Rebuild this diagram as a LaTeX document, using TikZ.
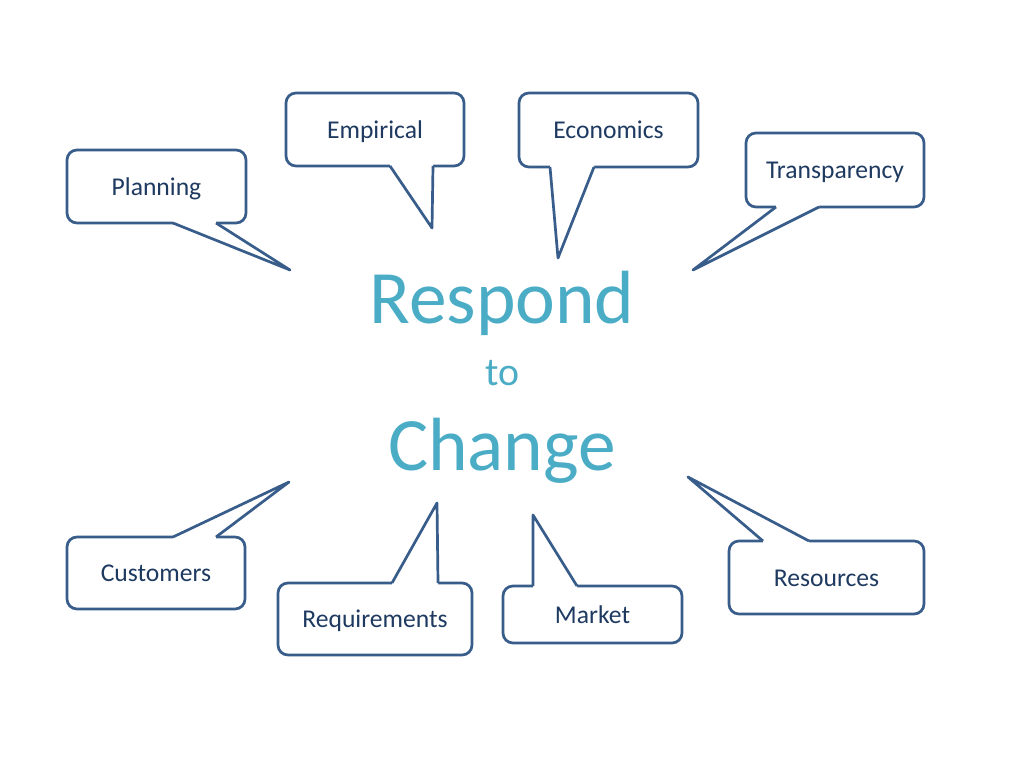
\documentclass[tikz,border=0pt]{standalone}
\usepackage{fontspec}
\setmainfont{Carlito}
\usepackage{xcolor}
\usepackage{tikz}
\usetikzlibrary{calc}
\usetikzlibrary{positioning}
\definecolor{boxline}{HTML}{385D8A}
\definecolor{boxtext}{HTML}{1F3A60}
\definecolor{bigtext}{HTML}{4BACC6}
\newcommand{\unitpx}{0.703125pt}
% pointer of a callout: box edge anchor, base x1, base x2, tip, inward shift
\newcommand{\Pointer}[5]{%
\fill[white] ($(#1 -| #2,0)+(0,#5)$) -- (#1 -| #2,0) -- (#4) -- (#1 -| #3,0) -- ($(#1 -| #3,0)+(0,#5)$) -- cycle;
\draw[Tail] (#1 -| #2,0) -- (#4) -- (#1 -| #3,0);}

\begin{document}
\begin{tikzpicture}[
x=\unitpx, y=-\unitpx,
Callout/.style={draw=boxline,fill=white,line width=1.9pt,rounded corners=7pt,
  outer sep=0pt,inner sep=0pt,text=boxtext,font=\fontsize{18}{20}\selectfont,
  text height=12pt,text depth=0pt},
Tail/.style={draw=boxline,line width=1.9pt,line join=round},
BigWord/.style={text=bigtext,anchor=base,font=\fontsize{53}{60}\selectfont},
SmallWord/.style={text=bigtext,anchor=base,font=\fontsize{28}{32}\selectfont}
]
\fill[white] (0,0) rectangle (1024,768);
\useasboundingbox (0,0) rectangle (1024,768);

% tips of the callouts
\coordinate (PlanTip) at (290,270);
\coordinate (EmpTip) at (432,228);
\coordinate (EconTip) at (558,258);
\coordinate (TransTip) at (693,270);
\coordinate (CustTip) at (289,482);
\coordinate (ReqTip) at (437,503);
\coordinate (MarkTip) at (533,515);
\coordinate (ResTip) at (688,477);

% upper callouts
\node[Callout,minimum width=179*\unitpx,minimum height=73*\unitpx] (Plan) at (156.5,186.5) {Planning};
\Pointer{Plan.south}{173}{216}{PlanTip}{-4}
\node[Callout,minimum width=178*\unitpx,minimum height=73*\unitpx] (Emp) at (375,129.5) {Empirical};
\Pointer{Emp.south}{390}{433}{EmpTip}{-4}
\node[Callout,minimum width=179*\unitpx,minimum height=74*\unitpx] (Econ) at (608.5,130) {Economics};
\Pointer{Econ.south}{550}{594}{EconTip}{-4}
\node[Callout,minimum width=178*\unitpx,minimum height=74*\unitpx] (Trans) at (835,170) {Transparency};
\Pointer{Trans.south}{776}{819}{TransTip}{-4}

% lower callouts
\node[Callout,minimum width=178*\unitpx,minimum height=72*\unitpx] (Cust) at (156,573) {Customers};
\Pointer{Cust.north}{173}{216}{CustTip}{4}
\node[Callout,minimum width=194*\unitpx,minimum height=72*\unitpx] (Req) at (375,619) {Requirements};
\Pointer{Req.north}{392}{438}{ReqTip}{4}
\node[Callout,minimum width=179*\unitpx,minimum height=57*\unitpx] (Mark) at (592.5,614.5) {Market};
\Pointer{Mark.north}{533}{577}{MarkTip}{4}
\node[Callout,minimum width=195*\unitpx,minimum height=73*\unitpx] (Res) at (826.5,577.5) {Resources};
\Pointer{Res.north}{763}{809}{ResTip}{4}

% centre text
\node[BigWord] (Respond) at (502,323) {Respond};
\node[SmallWord] (To) at (502,385) {to};
\node[BigWord] (Change) at (502,470) {Change};

\end{tikzpicture}
\end{document}
